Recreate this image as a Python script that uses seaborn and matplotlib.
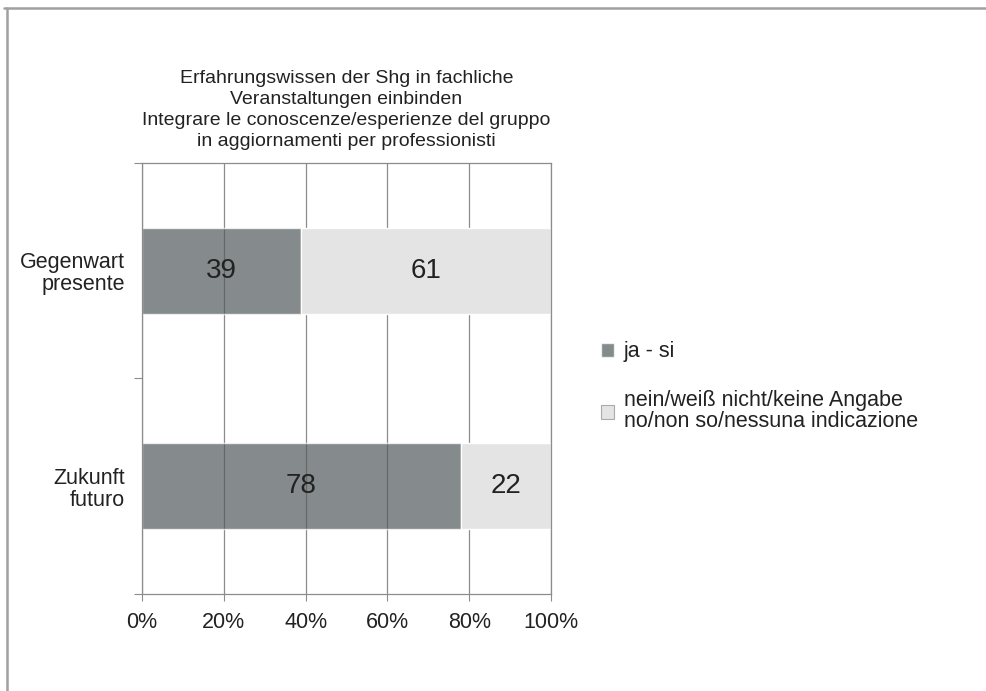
import matplotlib
matplotlib.use('Agg')
import matplotlib.pyplot as plt
from matplotlib.lines import Line2D
from matplotlib.ticker import FixedLocator, PercentFormatter
import seaborn as sns
import pandas as pd
import numpy as np

categories = ['Gegenwart\npresente', 'Zukunft\nfuturo']
ja_si = [39, 78]
nein = [61, 22]
series_names = ['ja - si', 'nein/weiß nicht/keine Angabe\nno/non so/nessuna indicazione']
title = ('Erfahrungswissen der Shg in fachliche\nVeranstaltungen einbinden\n'
         'Integrare le conoscenze/esperienze del gruppo\nin aggiornamenti per professionisti')

DARK = '#52595b'
LIGHT = '#e4e4e4'
LINE = '#8c8c8c'

sns.set_style('white')
plt.rcParams['font.family'] = ['Liberation Sans', 'DejaVu Sans']

df = pd.DataFrame({'cat': categories, 'ja': ja_si, 'nein': nein})

fig = plt.figure(figsize=(9.86, 6.91), dpi=100)
ax = fig.add_axes([0.144, 0.1404, 0.4148, 0.6237])

# dark segment through seaborn; semi-transparent and above the grid,
# so the grid lines show through a bit darker
sns.barplot(data=df, x='ja', y='cat', orient='y', color=DARK, alpha=0.7,
            width=0.4, errorbar=None, saturation=1, ax=ax,
            label=series_names[0])
for p in ax.containers[0]:
    p.set_zorder(3)
    p.set_alpha(0.7)
# light segment stacked after it, opaque, hides the grid
pos = np.arange(len(categories))
ax.barh(pos, df['nein'], left=df['ja'], height=0.4, color=LIGHT, zorder=3,
        label=series_names[1])
if ax.get_legend() is not None:
    ax.get_legend().remove()

ax.grid(axis='x', color=LINE, linewidth=0.9)
ax.grid(axis='y', visible=False)
ax.set_axisbelow('line')

ax.set_xlim(0, 100)
ax.set_ylim(len(categories) - 0.5, -0.5)
ax.set_xticks([0, 20, 40, 60, 80, 100])
ax.xaxis.set_major_formatter(PercentFormatter(decimals=0))
ax.yaxis.set_minor_locator(FixedLocator([-0.5, 0.5, 1.5]))
ax.tick_params(axis='x', length=5, width=0.8, color=LINE, labelsize=15.5,
               pad=8, labelcolor='#222222', direction='out', bottom=True)
ax.tick_params(axis='y', which='major', length=0, labelsize=15.5, pad=12,
               labelcolor='#222222')
ax.tick_params(axis='y', which='minor', length=6, width=0.8, color=LINE,
               direction='out', left=True)
for lab in ax.get_yticklabels():
    lab.set_multialignment('right')
    lab.set_linespacing(1.05)
ax.set_xlabel('')
ax.set_ylabel('')
for s in ax.spines.values():
    s.set_visible(True)
    s.set_color(LINE)
    s.set_linewidth(0.9)
    s.set_zorder(4)

# values inside the segments
for i in range(len(categories)):
    ax.text(ja_si[i] / 2, i, str(ja_si[i]), ha='center', va='center',
            fontsize=20, color='#222222', zorder=5)
    ax.text(ja_si[i] + nein[i] / 2, i, str(nein[i]), ha='center', va='center',
            fontsize=20, color='#222222', zorder=5)

ax.set_title(title, fontsize=14, linespacing=1.32, pad=12, color='#222222')

handles = [ax.containers[0], ax.containers[1]]
leg = fig.legend(handles, series_names, loc='upper left',
                 bbox_to_anchor=(0.59, 1 - 322 / 691), frameon=False,
                 fontsize=15.5, handlelength=0.6, handleheight=0.6,
                 handletextpad=0.45, labelspacing=1.3, labelcolor='#222222')
for t in leg.get_texts():
    t.set_linespacing(1.0)
leg.legend_handles[1].set_edgecolor('#aaaaaa')
leg.legend_handles[1].set_linewidth(0.8)

# outer frame lines (top and left)
fig.add_artist(Line2D([0.004, 1.0], [1 - 8 / 691, 1 - 8 / 691],
                      transform=fig.transFigure, color='#a0a0a0', linewidth=1.8))
fig.add_artist(Line2D([7 / 986, 7 / 986], [0, 1 - 8 / 691],
                      transform=fig.transFigure, color='#a0a0a0', linewidth=1.8))

plt.savefig('out.png', dpi=100)
